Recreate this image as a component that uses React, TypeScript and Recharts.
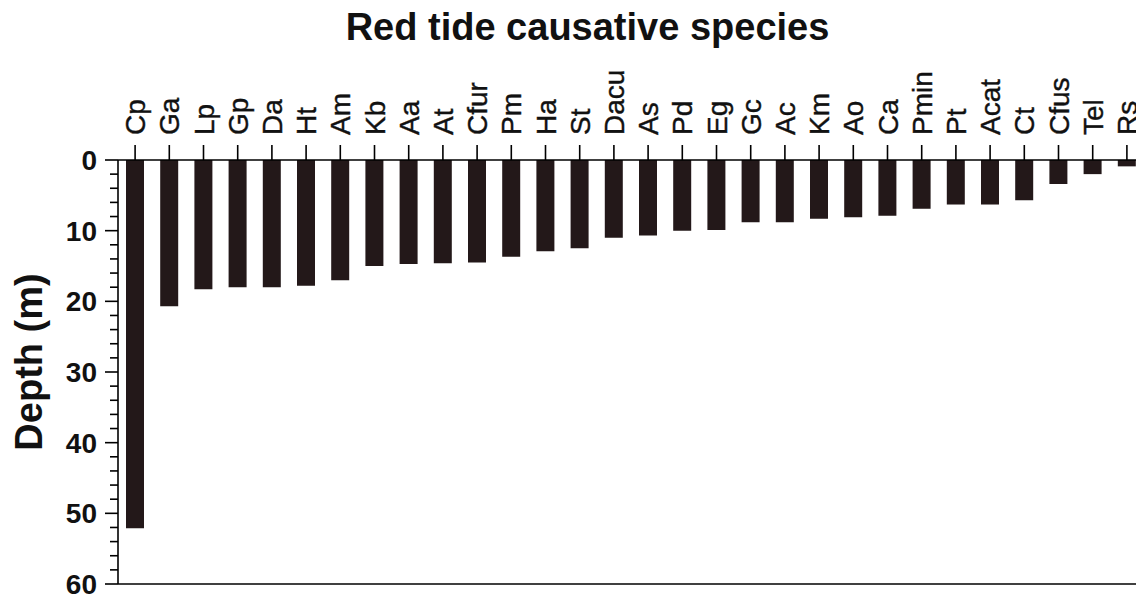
import { BarChart, Bar, XAxis, YAxis, ReferenceLine } from 'recharts';

// species codes (left to right) and max depth (m)
const species = [
    'Cp', 'Ga', 'Lp', 'Gp', 'Da', 'Ht', 'Am', 'Kb', 'Aa', 'At',
    'Cfur', 'Pm', 'Ha', 'St', 'Dacu', 'As', 'Pd', 'Eg', 'Gc', 'Ac',
    'Km', 'Ao', 'Ca', 'Pmin', 'Pt', 'Acat', 'Ct', 'Cfus', 'Tel', 'Rs',
];
const depths = [
    52.1, 20.7, 18.3, 18.0, 18.0, 17.8, 17.0, 15.0, 14.7, 14.6,
    14.5, 13.7, 12.9, 12.5, 11.0, 10.7, 10.0, 9.9, 8.8, 8.8,
    8.3, 8.1, 7.9, 6.9, 6.3, 6.3, 5.7, 3.4, 2.0, 0.9,
];
const yTicks = [0, 2, 4, 6, 8, 10, 12, 14, 16, 18, 20, 22, 24, 26, 28, 30, 32, 34, 36, 38, 40, 42, 44, 46, 48, 50, 52, 54, 56, 58, 60];
const yLabelTicks = [0, 10, 20, 30, 40, 50, 60];

const data = species.map((name, i) => ({ name, depth: depths[i] }));

const FONT = '"Liberation Sans", Arial, sans-serif';

function SpeciesTick({ x, y, payload }: any) {
    return (
        <g>
            <line x1={x} x2={x} y1={y} y2={y - 15} stroke="#000" strokeWidth={1.6} />
            <text
                x={x}
                y={y - 25}
                dy="0.36em"
                transform={`rotate(-90, ${x}, ${y - 25})`}
                textAnchor="start"
                fontFamily={FONT}
                fontSize={28}
                fill="#111"
                stroke="#111"
                strokeWidth={0.4}
            >
                {payload.value}
            </text>
        </g>
    );
}

function DepthTick({ x, y, payload }: any) {
    const major = yLabelTicks.includes(payload.value);
    return (
        <g>
            <line x1={x - (major ? 13 : 8)} x2={x} y1={y} y2={y} stroke="#000" strokeWidth={1.6} />
            {major && (
                <text
                    x={x - 21}
                    y={y}
                    dy="0.36em"
                    textAnchor="end"
                    fontFamily={FONT}
                    fontWeight="bold"
                    fontSize={28}
                    fill="#111"
                >
                    {payload.value}
                </text>
            )}
        </g>
    );
}

function DepthLabel({ viewBox }: any) {
    const cx = viewBox.x + 42;
    const cy = viewBox.y + viewBox.height / 2 - 10;
    return (
        <text
            x={cx}
            y={cy}
            transform={`rotate(-90, ${cx}, ${cy})`}
            textAnchor="middle"
            fontFamily={FONT}
            fontWeight="bold"
            fontSize={38}
            fill="#111"
        >
            Depth (m)
        </text>
    );
}

export default function App() {
    return (
        <div style={{ position: 'absolute', left: 0, top: 0, width: 1136, height: 598, overflow: 'hidden', background: '#fff' }}>
            <div
                style={{
                    position: 'absolute',
                    left: 0,
                    top: 8,
                    width: 1175,
                    textAlign: 'center',
                    fontFamily: FONT,
                    fontWeight: 'bold',
                    fontSize: 38,
                    lineHeight: '38px',
                    color: '#111',
                }}
            >
                Red tide causative species
            </div>
            <BarChart
                width={1160}
                height={598}
                data={data}
                margin={{ top: 40, right: 16, left: 0, bottom: 14 }}
                barSize={18}
            >
                <XAxis
                    dataKey="name"
                    orientation="top"
                    height={120}
                    interval={0}
                    tickSize={0}
                    tickMargin={0}
                    tickLine={false}
                    axisLine={{ stroke: '#000', strokeWidth: 1.6 }}
                    tick={<SpeciesTick />}
                />
                <YAxis
                    type="number"
                    domain={[0, 60]}
                    reversed
                    ticks={yTicks}
                    interval={0}
                    width={118}
                    tickSize={0}
                    tickMargin={0}
                    tickLine={false}
                    axisLine={{ stroke: '#000', strokeWidth: 1.6 }}
                    tick={<DepthTick />}
                    label={<DepthLabel />}
                />
                <ReferenceLine y={60} stroke="#000" strokeWidth={1.6} />
                <Bar dataKey="depth" fill="#231819" isAnimationActive={false} />
            </BarChart>
        </div>
    );
}
